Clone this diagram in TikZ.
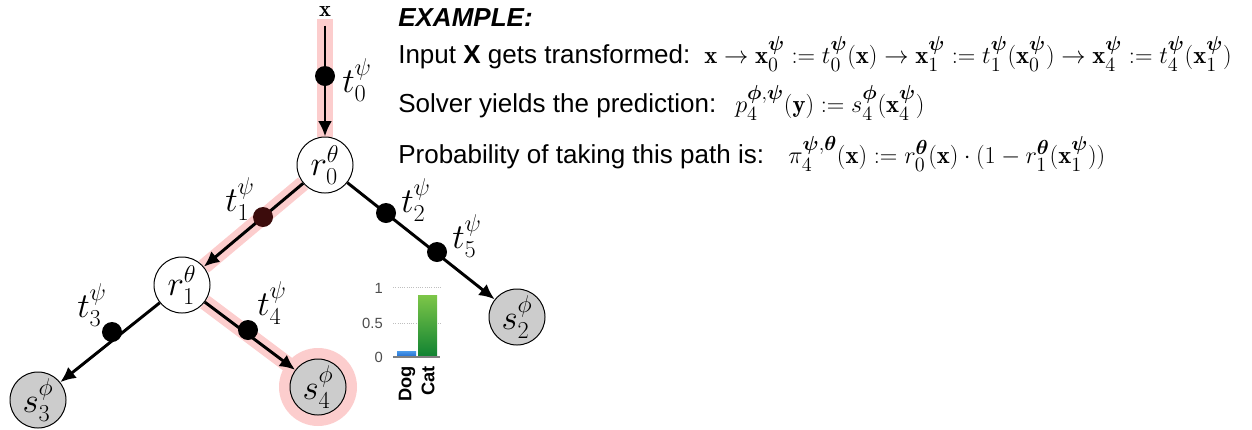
\documentclass[tikz,border=0pt]{standalone}
\usepackage{amsmath}
\usepackage{amssymb}
\usepackage{fontspec}
\newfontfamily\arialfont{Liberation Sans}
\usetikzlibrary{arrows.meta, backgrounds}
\DeclareMathSizes{17.5}{17.5}{14}{10.8}

\definecolor{pathpink}{RGB}{252,205,205}
\definecolor{solvergray}{RGB}{204,204,204}
\definecolor{dotred}{RGB}{60,12,12}
\definecolor{doglight}{RGB}{75,155,235}
\definecolor{dogdark}{RGB}{30,105,205}
\definecolor{catlight}{RGB}{125,198,72}
\definecolor{catdark}{RGB}{15,130,50}

\begin{document}
\begin{tikzpicture}[x=0.025cm, y=-0.025cm, >={Latex[length=11pt,width=10pt]},
    route/.style={draw=pathpink, line width=11pt},
    edge/.style={line width=2.1pt, ->},
    router/.style={circle, draw, line width=0.7pt, fill=white, minimum size=1.4cm, inner sep=0pt,
      font=\fontsize{25}{30}\selectfont},
    solver/.style={router, fill=solvergray},
    trans/.style={circle, fill=black, minimum size=0.5cm, inner sep=0pt},
    tlabel/.style={font=\fontsize{25}{30}\selectfont, inner sep=0pt},
    txt/.style={font=\arialfont\fontsize{18.5}{22}\selectfont, anchor=base west, inner sep=0pt},
    eq/.style={font=\fontsize{17.5}{20}\selectfont, anchor=base west, inner sep=0pt},
    tick/.style={font=\arialfont\fontsize{10.5}{12}\selectfont, text=black!70, anchor=east, inner sep=0pt},
    barname/.style={font=\arialfont\bfseries\fontsize{13}{15}\selectfont, rotate=90, anchor=east, inner sep=0pt}]
  \useasboundingbox (0,0) rectangle (1252,429);

  % tree
  \node (x) at (325,12) [font=\fontsize{16}{20}\selectfont, inner sep=1pt] {$\mathbf{x}$};
  \node (r0) at (325,165) [router] {$r_0^\theta$};
  \node (r1) at (182,285) [router] {$r_1^\theta$};
  \node (s2) at (517,317) [solver] {$s_2^\phi$};
  \node (s3) at (38,400) [solver] {$s_3^\phi$};
  \node (s4) at (318,387) [solver] {$s_4^\phi$};

  \draw [edge, shorten <=5pt] (x) -- (r0);
  \draw [edge] (r0) -- (r1);
  \draw [edge] (r0) -- (s2);
  \draw [edge] (r1) -- (s3);
  \draw [edge] (r1) -- (s4);

  \node (t0) at (325,76) [trans] {};
  \node (t1) at (263,217) [trans, fill=dotred] {};
  \node (t2) at (386,213) [trans] {};
  \node (t5) at (437,252) [trans] {};
  \node (t3) at (112,332) [trans] {};
  \node (t4) at (248,330) [trans] {};

  \node (lt0) at (357,80) [tlabel] {$t_0^\psi$};
  \node (lt1) at (240,199) [tlabel] {$t_1^\psi$};
  \node (lt2) at (416,200) [tlabel] {$t_2^\psi$};
  \node (lt5) at (467,236) [tlabel] {$t_5^\psi$};
  \node (lt3) at (92,305) [tlabel] {$t_3^\psi$};
  \node (lt4) at (272,303) [tlabel] {$t_4^\psi$};

  % the path that is taken
  \begin{scope}[on background layer]
    \fill [pathpink] (s4) circle [radius=39];
    \draw [route] (x) -- (r0);
    \draw [route] (r0) -- (r1);
    \draw [route] (r1) -- (s4);
  \end{scope}

  % prediction of s4
  \draw [black!25, densely dotted, line width=0.6pt] (393,287) -- (442,287);
  \draw [black!25, densely dotted, line width=0.6pt] (393,323) -- (442,323);
  \shade [top color=doglight, bottom color=dogdark] (397,351) rectangle (416,357);
  \shade [top color=catlight, bottom color=catdark] (418,295) rectangle (437,357);
  \draw [black!50, line width=0.8pt] (393,357) -- (440,357);
  \node (one) at (383,288) [tick] {1};
  \node (half) at (383,323) [tick] {0.5};
  \node (zero) at (383,357) [tick] {0};
  \node (dog) at (407,366) [barname] {Dog};
  \node (cat) at (428,366) [barname] {Cat};

  % explanation
  \node (head) at (398,26) [txt] {\bfseries\itshape EXAMPLE:};
  \node (line1) at (398,63) [txt] {Input \textbf{X} gets transformed:};
  \node (line2) at (398,112) [txt] {Solver yields the prediction:};
  \node (line3) at (398,163) [txt] {Probability of taking this path is:};
  \node (eq1) at (704,63) [eq] {$\mathbf{x}\rightarrow\mathbf{x}_0^{\boldsymbol\psi}:=t_0^{\boldsymbol\psi}(\mathbf{x})
    \rightarrow\mathbf{x}_1^{\boldsymbol\psi}:=t_1^{\boldsymbol\psi}(\mathbf{x}_0^{\boldsymbol\psi})
    \rightarrow\mathbf{x}_4^{\boldsymbol\psi}:=t_4^{\boldsymbol\psi}(\mathbf{x}_1^{\boldsymbol\psi})$};
  \node (eq2) at (735,112) [eq] {$p_4^{\boldsymbol\phi,\boldsymbol\psi}(\mathbf{y}):=s_4^{\boldsymbol\phi}(\mathbf{x}_4^{\boldsymbol\psi})$};
  \node (eq3) at (788,163) [eq] {$\pi_4^{\boldsymbol\psi,\boldsymbol\theta}(\mathbf{x}):=r_0^{\boldsymbol\theta}(\mathbf{x})\cdot(1-r_1^{\boldsymbol\theta}(\mathbf{x}_1^{\boldsymbol\psi}))$};
\end{tikzpicture}
\end{document}
